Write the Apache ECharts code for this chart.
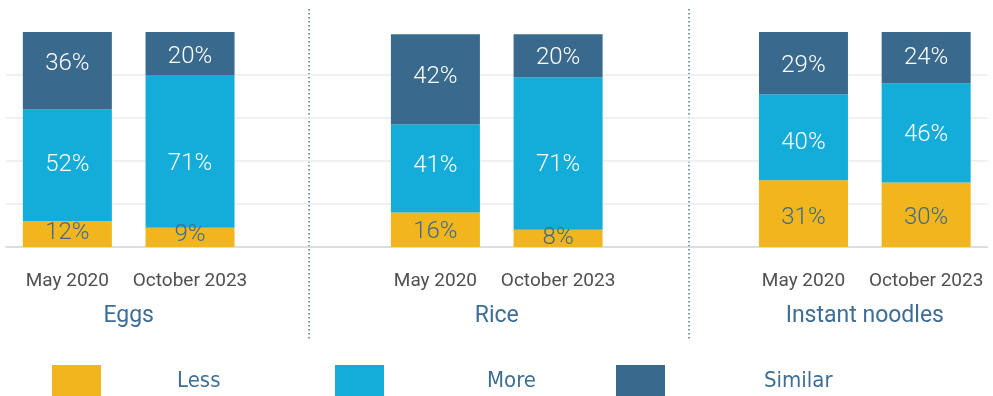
<!DOCTYPE html>
<html>
<head>
<meta charset="utf-8">
<script src="https://cdn.jsdelivr.net/npm/echarts@6/dist/echarts.min.js"></script>
<style>
html,body{margin:0;padding:0;background:#fff;}
#c{width:993px;height:396px;}
</style>
</head>
<body>
<div id="c"></div>
<script>
// ---- data ----
const groups = ['Eggs', 'Rice', 'Instant noodles'];
const periods = ['May 2020', 'October 2023'];
const seriesNames = ['Less', 'More', 'Similar'];
// values per group, per period
const less    = [[12, 9],  [16, 8],  [31, 30]];
const more    = [[52, 71], [41, 71], [40, 46]];
const similar = [[36, 20], [42, 20], [29, 24]];
// label vertical nudges (px), style only
const lessNudge    = [[-1, -2], [2, 0], [4, 3]];
const moreNudge    = [[0, 13], [-3, 12], [6, 2]];
const similarNudge = [[-7, 3], [-2, 2], [3, 0]];

const colors = ['#F1B61D', '#14ACD8', '#39698C'];
const labelColors = ['#3D6A8D', '#ffffff', '#ffffff'];

// build slot layout: two bars per group plus a spacer slot between groups
const slotCats = [];
const groupCats = [''];
groups.forEach((g, gi) => {
  periods.forEach(p => slotCats.push(p));
  if (gi < groups.length - 1) slotCats.push('');
});
for (let i = 1; i < slotCats.length + 1; i++) groupCats.push('');
groups.forEach((g, gi) => { groupCats[gi * 3 + 1] = g; });

function buildData(vals, nudges) {
  const out = [];
  groups.forEach((g, gi) => {
    periods.forEach((p, pi) => {
      out.push({ value: vals[gi][pi], label: { offset: [0, nudges[gi][pi]] } });
    });
    if (gi < groups.length - 1) out.push('-');
  });
  return out;
}

const seriesVals = [less, more, similar];
const seriesNudges = [lessNudge, moreNudge, similarNudge];

const chart = echarts.init(document.getElementById('c'), null, { renderer: 'canvas' });

const legendTextPad = [71, 98, 94];
const legendLefts = [52, 335, 616];

const option = {
  animation: false,
  backgroundColor: '#ffffff',
  grid: { left: 6, right: 5.5, top: 32, bottom: 149, containLabel: false },
  legend: seriesNames.map((n, i) => ({
    data: [{ name: n, icon: 'rect' }],
    left: legendLefts[i],
    top: 365,
    padding: 0,
    itemWidth: 49,
    itemHeight: 32,
    selectedMode: false,
    textStyle: {
      fontFamily: 'Liberation Sans Narrow, DejaVu Sans Condensed, Roboto, sans-serif',
      fontSize: 22,
      color: '#3E6E95',
      padding: [0, 0, 0, legendTextPad[i]]
    }
  })),
  xAxis: [
    {
      type: 'category',
      data: slotCats,
      axisLine: { show: true, lineStyle: { color: '#d2d2d2', width: 1.5 } },
      axisTick: { show: false },
      axisLabel: {
        interval: 0, margin: 25,
        fontFamily: 'Roboto, Liberation Sans, sans-serif',
        fontSize: 19, color: '#4f4f4f'
      },
      splitLine: { show: false }
    },
    {
      type: 'category',
      data: groupCats,
      boundaryGap: false,
      position: 'bottom',
      axisLine: { show: false },
      axisTick: { show: false },
      axisLabel: {
        interval: 0, margin: 58,
        fontFamily: 'Roboto, Liberation Sans, sans-serif',
        fontSize: 23, color: '#3E6E95'
      },
      splitLine: { show: false }
    }
  ],
  yAxis: {
    type: 'value',
    min: 0, max: 100, interval: 20,
    axisLabel: { show: false },
    axisLine: { show: false },
    axisTick: { show: false },
    splitLine: { show: true, showMinLine: false, showMaxLine: false, lineStyle: { color: '#ebebeb', width: 1.5 } }
  },
  series: seriesNames.map((n, i) => ({
    name: n,
    type: 'bar',
    stack: 'total',
    xAxisIndex: 0,
    barWidth: 89,
    itemStyle: { color: colors[i] },
    label: {
      show: true,
      position: 'inside',
      formatter: '{c}%',
      fontFamily: 'Roboto, Liberation Sans, sans-serif',
      fontWeight: 300,
      fontSize: 24,
      color: labelColors[i]
    },
    data: buildData(seriesVals[i], seriesNudges[i])
  })),
  graphic: [309, 689].map(x => ({
    type: 'line',
    shape: { x1: x, y1: 9, x2: x, y2: 340 },
    style: { stroke: '#4A7BA8', lineWidth: 1.5, lineDash: [1.5, 2.5] },
    silent: true
  }))
};
chart.setOption(option);
</script>
</body>
</html>
